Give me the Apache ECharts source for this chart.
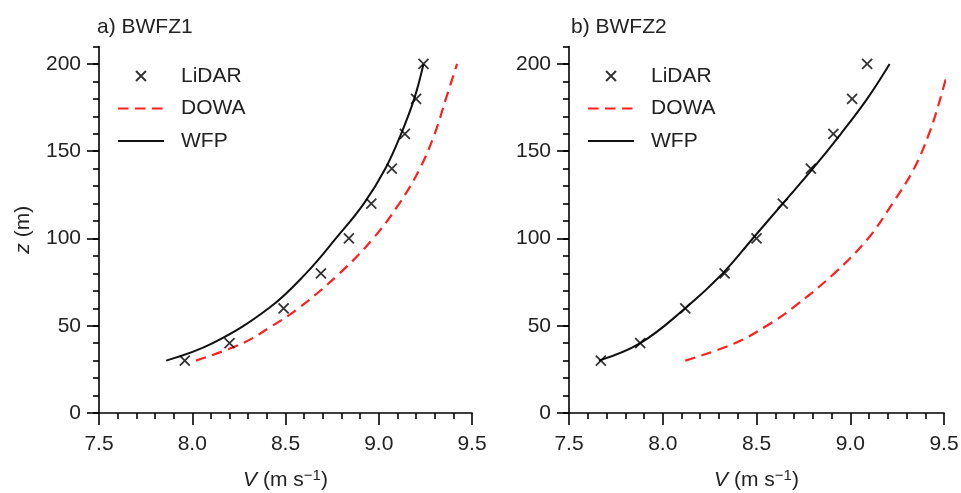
<!DOCTYPE html>
<html><head><meta charset="utf-8">
<script src="https://cdn.jsdelivr.net/npm/echarts@6/dist/echarts.min.js"></script>
<style>html,body{margin:0;padding:0;background:#fff}#c{width:961px;height:493px}</style>
</head><body><div id="c"></div>
<script>
// ---- data ----
const heights = [30, 40, 60, 80, 100, 120, 140, 160, 180, 200];
const lidarA = [7.96, 8.20, 8.49, 8.69, 8.84, 8.96, 9.07, 9.14, 9.20, 9.24];
const wfpA   = [7.86, 8.11, 8.41, 8.61, 8.77, 8.92, 9.035, 9.12, 9.19, 9.24];
const dowaHeights = [30, 40, 50, 60, 80, 100, 120, 140, 160, 180, 200];
const dowaA  = [8.02, 8.27, 8.43, 8.57, 8.79, 8.97, 9.11, 9.22, 9.30, 9.36, 9.42];
const lidarB = [7.67, 7.88, 8.12, 8.33, 8.50, 8.64, 8.79, 8.91, 9.01, 9.09];
const wfpB   = [7.66, 7.88, 8.12, 8.32, 8.48, 8.64, 8.80, 8.95, 9.09, 9.21];
const dowaB  = [8.12, 8.385, 8.555, 8.69, 8.915, 9.095, 9.225, 9.34, 9.42, 9.48, 9.53];
const xTicks = [7.5, 8.0, 8.5, 9.0, 9.5];
const yTicks = [0, 50, 100, 150, 200];
const yMax = 210;
const panelTitles = ['a) BWFZ1', 'b) BWFZ2'];
const seriesNames = ['LiDAR', 'DOWA', 'WFP'];

// ---- styling ----
const FONT = 'Liberation Sans';
const TXT = '#222';
const FS = 21;
const AX = { color: '#000', width: 1.6 };

function pairs(xs, ys) { return xs.map((v, i) => [v, ys[i]]); }

function xAxisOpt(g) {
  return {
    type: 'value', gridIndex: g,
    min: xTicks[0], max: xTicks[xTicks.length - 1], interval: xTicks[1] - xTicks[0],
    name: '{i|V} (m s{sup|\u22121})', nameLocation: 'middle', nameGap: 55,
    nameTextStyle: {
      color: TXT, fontFamily: FONT, fontSize: FS, lineHeight: 24,
      rich: {
        i: { fontStyle: 'italic', fontFamily: FONT, fontSize: FS, color: TXT, lineHeight: 24 },
        sup: { fontFamily: FONT, fontSize: 15, color: TXT, verticalAlign: 'top', lineHeight: 15 }
      }
    },
    axisLine: { show: true, onZero: false, lineStyle: AX },
    axisTick: { show: true, length: 12, lineStyle: AX },
    minorTick: { show: true, splitNumber: 5, length: 6, lineStyle: AX },
    axisLabel: { margin: 21, fontSize: FS, fontFamily: FONT, color: TXT, formatter: v => v.toFixed(1) },
    splitLine: { show: false }, minorSplitLine: { show: false }
  };
}
function yAxisMain(g, withName) {
  return {
    type: 'value', gridIndex: g, position: 'left', min: 0, max: yMax, interval: 10,
    name: withName ? '{i|z} (m)' : '', nameLocation: 'middle', nameGap: 64,
    nameTextStyle: {
      color: TXT, fontFamily: FONT, fontSize: FS, lineHeight: 24,
      rich: { i: { fontStyle: 'italic', fontFamily: FONT, fontSize: FS, color: TXT, lineHeight: 24 } }
    },
    axisLine: { show: true, onZero: false, lineStyle: AX },
    axisTick: { show: true, length: 12, lineStyle: AX, customValues: yTicks },
    axisLabel: { margin: 18, fontSize: FS, fontFamily: FONT, color: TXT, customValues: yTicks },
    splitLine: { show: false }
  };
}
function yAxisMinor(g) {
  return {
    type: 'value', gridIndex: g, position: 'left', offset: 0, min: 0, max: yMax, interval: 10,
    axisLine: { show: false },
    axisTick: { show: true, length: 6, lineStyle: AX },
    axisLabel: { show: false },
    splitLine: { show: false }
  };
}
const crossIcon = 'path://M0,0M46,14M18,2L28,12M28,2L18,12';
const hiddenSymbol = { color: 'rgba(0,0,0,0)', borderWidth: 0, opacity: 0 };
function legendOpt(left) {
  return {
    orient: 'vertical', left: left, top: 65, padding: 0,
    itemWidth: 46, itemHeight: 14, itemGap: 10.5,
    textStyle: { fontFamily: FONT, fontSize: FS, color: TXT, lineHeight: 22, padding: [0, 0, 0, 12] },
    data: [
      { name: seriesNames[0], icon: crossIcon, itemStyle: { color: '#000', borderColor: '#000', borderWidth: 2 } },
      { name: seriesNames[1], itemStyle: hiddenSymbol },
      { name: seriesNames[2], itemStyle: hiddenSymbol }
    ]
  };
}
function panelSeries(xi, yi, lidar, dowa, wfp) {
  return [
    { type: 'scatter', name: seriesNames[0], xAxisIndex: xi, yAxisIndex: yi,
      symbol: 'path://M0,0L10,10M10,0L0,10', symbolSize: 10,
      itemStyle: { color: '#000', borderColor: '#000', borderWidth: 1.8 },
      data: pairs(lidar, heights), z: 3 },
    { type: 'line', name: seriesNames[1], xAxisIndex: xi, yAxisIndex: yi,
      symbol: 'none', smooth: 0.4, clip: true,
      lineStyle: { color: '#ff1f1f', width: 2.2, type: [10.5, 6.5] },
      itemStyle: { color: '#ff1f1f' },
      data: pairs(dowa, dowaHeights) },
    { type: 'line', name: seriesNames[2], xAxisIndex: xi, yAxisIndex: yi,
      symbol: 'none', smooth: 0.4, clip: true,
      lineStyle: { color: '#111', width: 2 },
      itemStyle: { color: '#111' },
      data: pairs(wfp, heights) }
  ];
}

const option = {
  animation: false,
  backgroundColor: '#fff',
  title: [
    { text: panelTitles[0], left: 97, top: 17, padding: 0,
      textStyle: { fontFamily: FONT, fontSize: FS, fontWeight: 'normal', color: TXT } },
    { text: panelTitles[1], left: 571, top: 17, padding: 0,
      textStyle: { fontFamily: FONT, fontSize: FS, fontWeight: 'normal', color: TXT } }
  ],
  legend: [legendOpt(117), legendOpt(587)],
  grid: [
    { left: 99, top: 46.5, width: 373, height: 366.5, containLabel: false, outerBoundsMode: 'none' },
    { left: 569, top: 46.5, width: 375, height: 366.5, containLabel: false, outerBoundsMode: 'none' }
  ],
  xAxis: [xAxisOpt(0), xAxisOpt(1)],
  yAxis: [yAxisMain(0, true), yAxisMinor(0), yAxisMain(1, false), yAxisMinor(1)],
  series: [].concat(
    panelSeries(0, 0, lidarA, dowaA, wfpA),
    panelSeries(1, 2, lidarB, dowaB, wfpB)
  )
};
const chart = echarts.init(document.getElementById('c'), null, { renderer: 'canvas' });
chart.setOption(option);
</script>
</body></html>
